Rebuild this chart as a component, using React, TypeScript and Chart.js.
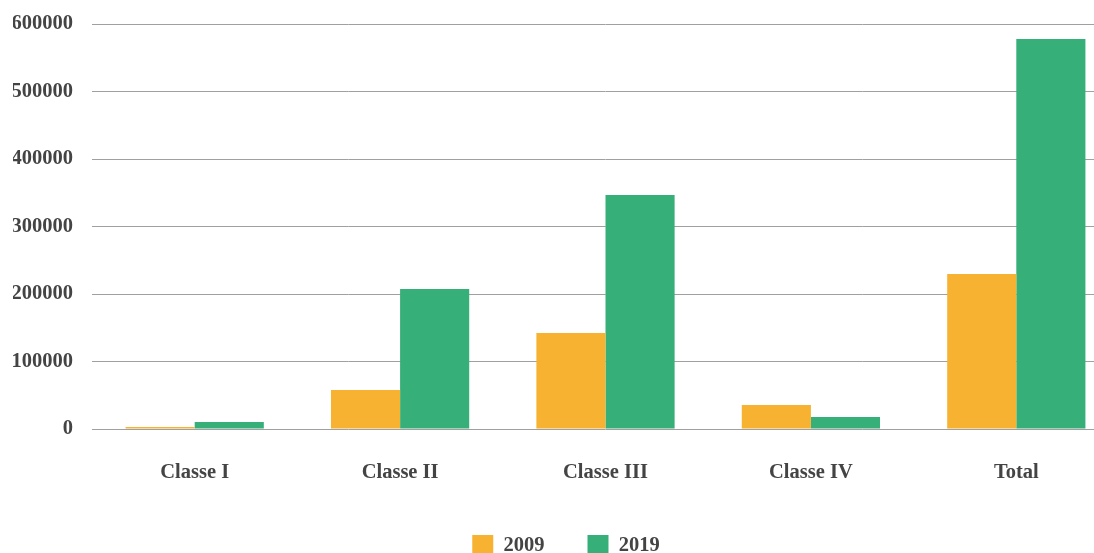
import React, { useEffect, useRef } from "react";
import { Chart, registerables } from "chart.js";

Chart.register(...registerables);

const categories = ["Classe I", "Classe II", "Classe III", "Classe IV", "Total"];
const values2009 = [3000, 57800, 142200, 35500, 229600];
const values2019 = [10400, 207400, 346700, 17800, 577800];
const seriesLabels = ["2009", "2019"];
const yTicks = [0, 100000, 200000, 300000, 400000, 500000, 600000];

const FONT = "'Liberation Serif', 'Times New Roman', serif";
const TEXT = "#444444";

export default function App() {
  const ref = useRef<HTMLCanvasElement | null>(null);
  useEffect(() => {
    if (!ref.current) return;
    const chart = new Chart(ref.current, {
      type: "bar",
      data: {
        labels: categories,
        datasets: [
          { label: seriesLabels[0], data: values2009, backgroundColor: "#F7B232", borderWidth: 0 },
          { label: seriesLabels[1], data: values2019, backgroundColor: "#37AF79", borderWidth: 0 },
        ],
      },
      options: {
        animation: false,
        responsive: false,
        maintainAspectRatio: false,
        layout: { padding: { top: 24, left: 13, right: 3, bottom: 0 } },
        datasets: { bar: { categoryPercentage: 0.673, barPercentage: 1 } },
        plugins: {
          legend: {
            position: "bottom",
            labels: {
              boxWidth: 21,
              boxHeight: 21,
              padding: 43,
              color: TEXT,
              font: { family: FONT, size: 20.5, weight: "bold" },
            },
          },
          tooltip: { enabled: false },
        },
        scales: {
          x: {
            grid: { display: false, drawTicks: false },
            border: { display: false },
            ticks: { color: TEXT, padding: 31, font: { family: FONT, size: 20.5, weight: "bold" } },
            afterFit: (scale: any) => {
              scale.height = 63;
            },
          },
          y: {
            min: yTicks[0],
            max: yTicks[yTicks.length - 1],
            afterBuildTicks: (scale: any) => {
              scale.ticks = yTicks.map((v) => ({ value: v }));
            },
            afterFit: (scale: any) => {
              scale.width = 79;
              scale.paddingTop = 0;
              scale.paddingBottom = 0;
            },
            grid: { color: "#a0a0a0", lineWidth: 1, drawTicks: false },
            border: { display: false },
            ticks: {
              color: TEXT,
              padding: 19,
              font: { family: FONT, size: 20.5, weight: "bold" },
              callback: (v: any) => String(v),
            },
          },
        },
      },
    });
    return () => chart.destroy();
  }, []);
  return (
    <div style={{ position: "fixed", left: 0, top: 0, width: 1094, height: 553, overflow: "hidden", background: "#fff" }}>
      <canvas ref={ref} width={1122} height={566} style={{ display: "block", width: 1122, height: 566 }} />
    </div>
  );
}
